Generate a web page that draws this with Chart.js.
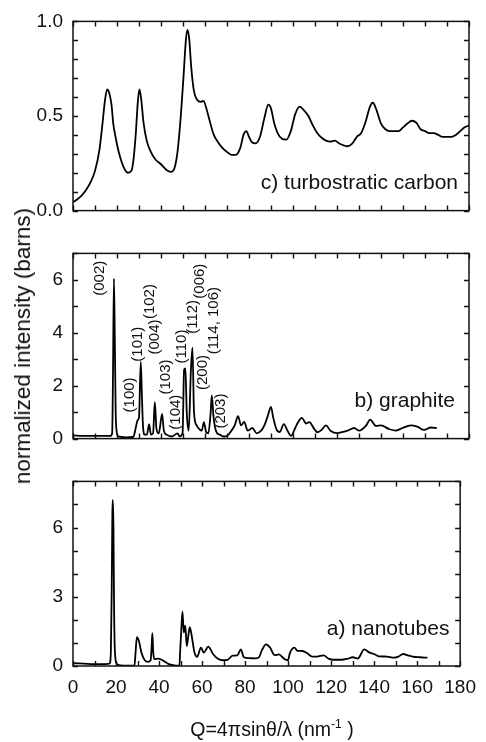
<!DOCTYPE html>
<html>
<head>
<meta charset="utf-8">
<script src="https://cdn.jsdelivr.net/npm/chart.js@4.4.0/dist/chart.umd.min.js"></script>
<style>
  body { margin: 0; background: #fff; }
  #wrap { position: relative; width: 486px; height: 742px; font-family: "Liberation Sans", Arial, sans-serif; color: #111; }
  #wrap canvas { position: absolute; left: 0; }
  #ytitle { position: absolute; left: 23px; top: 346px; transform: translate(-50%, -50%) rotate(-90deg); white-space: nowrap; font-size: 22.5px; }
  #xtitle { position: absolute; left: 272px; top: 729px; transform: translate(-50%, -50%); white-space: nowrap; font-size: 19.5px; }
  #xtitle sup { font-size: 12px; }
</style>
</head>
<body>
<div id="wrap">
  <canvas id="carbonChart" width="486" height="232" style="top:0px"></canvas>
  <canvas id="graphiteChart" width="486" height="228" style="top:232px"></canvas>
  <canvas id="tubeChart" width="486" height="282" style="top:460px"></canvas>
  <div id="ytitle">normalized intensity (barns)</div>
  <div id="xtitle">Q=4πsinθ/λ (nm<sup>-1</sup> )</div>
</div>
<script>
// c) turbostratic carbon
const carbonQ = [0, 2, 4, 6, 8, 10, 12, 13.5, 14.5, 15.5, 16.5, 17.5, 18.3, 19.5, 21, 23, 25, 26.5, 27.5, 28.5,
  29.5, 30.2, 31, 32, 33.5, 35, 37.5, 40, 42.5, 44.5, 46, 47.5, 49, 50.3, 51.3, 52, 52.8, 53.8, 55, 56.5,
  58, 59.3, 60.5, 62, 64, 66, 68, 70, 72, 74, 76, 77.5, 78.8, 80, 81.5, 83, 85, 87, 88.8, 90,
  91.5, 93, 95, 97, 99, 101, 103, 105, 107, 109, 111, 113, 115, 117, 119, 121, 123, 125, 127, 129,
  131, 133, 135, 136.3, 138, 140, 142, 144, 146, 148, 150, 152, 154, 156, 158, 160, 162, 164, 166, 168,
  170, 172, 174, 176, 178, 180];
const carbonI = [0.045, 0.06, 0.08, 0.11, 0.15, 0.21, 0.32, 0.47, 0.58, 0.64, 0.62, 0.56, 0.46, 0.38, 0.30, 0.23, 0.20, 0.21, 0.27, 0.40,
  0.58, 0.64, 0.59, 0.47, 0.37, 0.32, 0.27, 0.245, 0.215, 0.205, 0.22, 0.31, 0.50, 0.72, 0.90, 0.955, 0.91, 0.75, 0.63, 0.585,
  0.575, 0.58, 0.545, 0.48, 0.40, 0.36, 0.33, 0.31, 0.295, 0.295, 0.33, 0.40, 0.42, 0.39, 0.36, 0.355, 0.39, 0.49, 0.56, 0.54,
  0.46, 0.41, 0.38, 0.375, 0.42, 0.51, 0.55, 0.53, 0.50, 0.45, 0.41, 0.385, 0.37, 0.365, 0.37, 0.355, 0.345, 0.34, 0.355, 0.39,
  0.41, 0.47, 0.55, 0.57, 0.53, 0.46, 0.43, 0.42, 0.42, 0.42, 0.44, 0.46, 0.475, 0.465, 0.43, 0.42, 0.41, 0.41, 0.40, 0.39,
  0.39, 0.39, 0.40, 0.42, 0.44, 0.45];

// b) graphite
const graphiteQ = [0, 5, 10, 15, 17, 17.8, 18.2, 18.6, 19.0, 19.4, 19.8, 20.5, 24, 27.5, 28.5, 29.4, 30.0, 30.8, 31.3, 31.8,
  32.6, 33.6, 34.6, 35.4, 36.4, 37.2, 37.9, 39, 40.5, 41.3, 42.5, 45, 47.5, 48.5, 49.8, 50.5, 51.1, 51.7, 52.6, 53.6,
  54.3, 55.0, 56.2, 57.5, 58.5, 59.5, 60.5, 61.5, 62.5, 63.1, 63.8, 64.5, 65.5, 66.7, 68.5, 70, 72, 73.5, 75, 76.4,
  77.8, 79.4, 81.5, 83.5, 85.5, 87, 88.5, 90, 91, 92.5, 94, 95.8, 97.5, 99.1, 101, 102.5, 104, 106, 107.4, 109.7,
  111.2, 113, 115, 117, 120.3, 122.5, 124.8, 127.8, 130.1, 133.1, 135.1, 137.7, 140, 143.7, 146.7, 149.7, 153.5, 156.5, 159.6, 162.6,
  165.3];
const graphiteI = [0.12, 0.1, 0.1, 0.1, 0.1, 0.2, 2.6, 6.05, 3.8, 1.0, 0.3, 0.08, 0.05, 0.07, 0.4, 0.7, 0.8, 2.9, 1.7, 0.5,
  0.15, 0.15, 0.55, 0.15, 0.2, 1.38, 0.4, 0.2, 0.93, 0.3, 0.15, 0.08, 0.2, 0.08, 0.2, 2.6, 2.65, 1.0, 0.3, 2.6,
  3.44, 1.0, 0.5, 0.35, 0.3, 0.62, 0.25, 0.2, 0.9, 1.63, 0.9, 0.45, 0.2, 0.15, 0.08, 0.1, 0.3, 0.5, 0.85, 0.5,
  0.63, 0.3, 0.4, 0.2, 0.3, 0.5, 0.85, 1.2, 0.8, 0.35, 0.25, 0.55, 0.3, 0.1, 0.4, 0.65, 0.78, 0.57, 0.62, 0.36,
  0.24, 0.33, 0.5, 0.30, 0.21, 0.25, 0.30, 0.40, 0.30, 0.48, 0.72, 0.48, 0.50, 0.36, 0.30, 0.40, 0.50, 0.45, 0.33, 0.42,
  0.40];

// a) nanotubes
const tubeQ = [0, 5, 10, 15, 17, 17.6, 18.0, 18.3, 18.5, 18.8, 19.1, 19.5, 20.3, 22, 26, 28.6, 29.1, 29.7, 30.7, 31.9,
  33.4, 34.9, 36.1, 36.6, 36.9, 37.3, 37.9, 39.4, 41, 42.5, 44.5, 47, 49.5, 49.8, 50.2, 50.9, 51.5, 52.2, 52.9, 53.6,
  54.3, 55.2, 56.4, 57.7, 59.5, 60.8, 62.9, 65.1, 67.4, 69.7, 71.9, 74.2, 76.4, 78, 79.4, 82, 85, 86.5, 87.8, 89.8,
  91.6, 93.8, 95.7, 98.3, 99.9, 100.9, 102.9, 104.4, 106.7, 108.9, 111.2, 113.4, 116.5, 118.8, 121, 124.8, 127.8, 130.1, 132.4, 135.4,
  137.7, 140, 142.2, 146, 149, 151.3, 153.5, 155.8, 158.9, 161.1, 164.8];
const tubeI = [0.12, 0.1, 0.08, 0.08, 0.1, 0.6, 3.3, 6.6, 7.2, 6.1, 2.5, 0.6, 0.1, 0.03, 0.02, 0.03, 0.6, 1.25, 1.06, 0.55,
  0.25, 0.18, 0.25, 0.9, 1.42, 0.6, 0.3, 0.32, 0.28, 0.2, 0.08, 0.03, 0.02, 0.6, 1.3, 2.36, 1.45, 1.75, 0.86, 1.3,
  1.68, 1.3, 0.62, 0.4, 0.8, 0.58, 0.84, 0.52, 0.31, 0.25, 0.27, 0.45, 0.46, 0.72, 0.38, 0.34, 0.33, 0.38, 0.68, 0.94,
  0.8, 0.47, 0.5, 0.3, 0.25, 0.58, 0.8, 0.66, 0.65, 0.55, 0.41, 0.41, 0.46, 0.32, 0.27, 0.27, 0.32, 0.38, 0.32, 0.72,
  0.59, 0.52, 0.42, 0.41, 0.36, 0.41, 0.52, 0.46, 0.39, 0.38, 0.36];

// reflection labels on the graphite panel, centred at (Q, intensity)
const hklText = ['(002)', '(100)', '(101)', '(102)', '(004)', '(103)', '(104)', '(110)', '(112)', '(006)', '(200)', '(114, 106)', '(203)'];
const hklQ = [12.2, 25.8, 29.6, 34.9, 37.2, 42.2, 46.6, 49.7, 54.3, 57.6, 58.8, 64.1, 67.4];
const hklI = [6.06, 1.65, 3.57, 5.18, 3.84, 2.33, 1.0, 3.48, 4.6, 5.95, 2.5, 4.46, 1.04];

const INK = '#111';
const PLOT_LEFT = 73, PLOT_RIGHT_GAP = 17;
const X_LABEL_BAND = 40;

function toPoints(qs, vals) {
  return qs.map((q, i) => ({ x: q, y: vals[i] }));
}

// box frame plus inward tick marks on all four sides, then panel texts
const framePlugin = {
  id: 'framePlugin',
  afterDatasetsDraw(chart, args, opts) {
    const { ctx, chartArea: a, scales: { x, y } } = chart;
    ctx.save();
    ctx.strokeStyle = INK;
    ctx.lineWidth = 1.5;
    ctx.strokeRect(a.left, a.top, a.right - a.left, a.bottom - a.top);
    ctx.lineWidth = 1.4;
    ctx.beginPath();
    x.ticks.forEach(t => {
      const px = Math.round(x.getPixelForValue(t.value)) + 0.5;
      ctx.moveTo(px, a.bottom); ctx.lineTo(px, a.bottom - 5);
      ctx.moveTo(px, a.top); ctx.lineTo(px, a.top + 5);
    });
    y.ticks.forEach(t => {
      const py = Math.round(y.getPixelForValue(t.value)) + 0.5;
      ctx.moveTo(a.left, py); ctx.lineTo(a.left + 5, py);
      ctx.moveTo(a.right, py); ctx.lineTo(a.right - 5, py);
    });
    ctx.stroke();

    ctx.fillStyle = INK;
    if (opts.title) {
      ctx.font = '21px "Liberation Sans", Arial, sans-serif';
      ctx.textAlign = 'right';
      ctx.textBaseline = 'middle';
      ctx.fillText(opts.title.text, x.getPixelForValue(opts.title.q), y.getPixelForValue(opts.title.v));
    }
    if (opts.hkl) {
      ctx.font = '15px "Liberation Sans", Arial, sans-serif';
      ctx.textAlign = 'center';
      ctx.textBaseline = 'middle';
      hklText.forEach((txt, i) => {
        ctx.save();
        ctx.translate(x.getPixelForValue(hklQ[i]), y.getPixelForValue(hklI[i]));
        ctx.rotate(-Math.PI / 2);
        ctx.fillText(txt, 0, 0);
        ctx.restore();
      });
    }
    ctx.restore();
  }
};

function makePanel(id, qs, vals, yMax, labelEvery, padTop, padBottom, showX, title, hkl) {
  return new Chart(document.getElementById(id), {
    type: 'line',
    data: {
      datasets: [{
        data: toPoints(qs, vals),
        borderColor: '#000',
        borderWidth: 1.8,
        pointRadius: 0,
        cubicInterpolationMode: 'monotone',
        fill: false
      }]
    },
    options: {
      responsive: false,
      animation: false,
      events: [],
      layout: { autoPadding: false, padding: { left: 0, right: PLOT_RIGHT_GAP, top: padTop, bottom: padBottom } },
      plugins: {
        legend: { display: false },
        tooltip: { enabled: false },
        framePlugin: { title: title, hkl: hkl }
      },
      scales: {
        x: {
          type: 'linear',
          min: 0,
          max: 180,
          grid: { display: false, drawTicks: false },
          border: { display: false },
          // labels are clipped to the scale box, so only the bottom panel keeps a band for them
          afterFit: s => { s.height = showX ? X_LABEL_BAND : 0; },
          ticks: {
            display: showX,
            stepSize: 10,
            maxTicksLimit: 100,
            autoSkip: false,
            maxRotation: 0,
            padding: 10,
            color: INK,
            font: { family: '"Liberation Sans", Arial, sans-serif', size: 19 },
            callback: v => (v % 20 === 0 ? String(v) : '')
          }
        },
        y: {
          type: 'linear',
          min: 0,
          max: yMax,
          grid: { display: false, drawTicks: false },
          border: { display: false },
          afterFit: s => { s.width = PLOT_LEFT; },
          ticks: {
            stepSize: yMax === 1 ? 0.1 : 1,
            maxTicksLimit: 100,
            autoSkip: false,
            padding: 10,
            color: INK,
            font: { family: '"Liberation Sans", Arial, sans-serif', size: 19 },
            callback: v => {
              const k = v / labelEvery;
              if (Math.abs(k - Math.round(k)) > 1e-6) return '';
              return yMax === 1 ? v.toFixed(1) : String(Math.round(v));
            }
          }
        }
      }
    },
    plugins: [framePlugin]
  });
}

makePanel('carbonChart', carbonQ, carbonI, 1, 0.5, 17, 16, false,
  { text: 'c) turbostratic carbon', q: 175, v: 0.146 }, false);
makePanel('graphiteChart', graphiteQ, graphiteI, 7, 2, 13, 20, false,
  { text: 'b) graphite', q: 173.6, v: 1.43 }, true);
makePanel('tubeChart', tubeQ, tubeI, 8, 3, 8, 76 - X_LABEL_BAND, true,
  { text: 'a) nanotubes', q: 175, v: 1.6 }, false);
</script>
</body>
</html>
